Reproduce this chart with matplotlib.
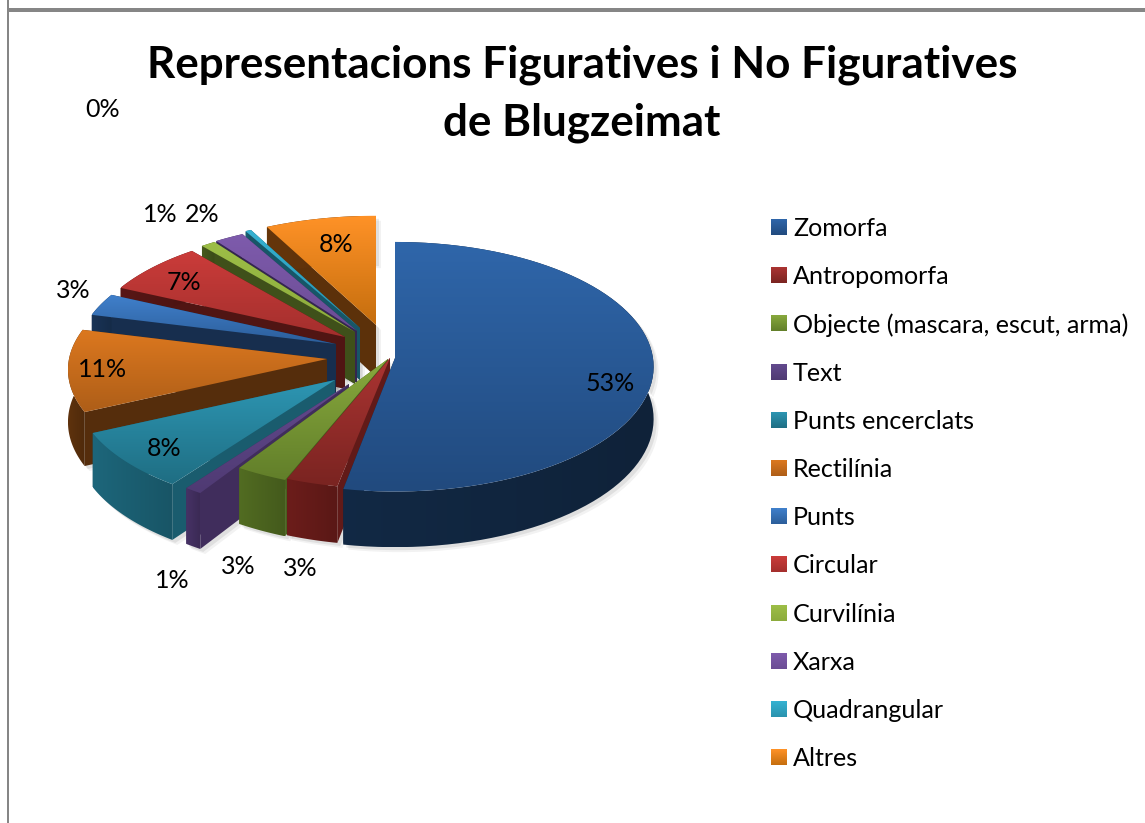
import numpy as np
import matplotlib
matplotlib.use("Agg")
import matplotlib.pyplot as plt
from matplotlib.colors import to_rgb
from matplotlib.patches import Polygon, Rectangle

plt.rcParams["font.family"] = ["Lato", "DejaVu Sans"]

TITLE = "Representacions Figuratives i No Figuratives\nde Blugzeimat"
CATEGORIES = ["Zomorfa", "Antropomorfa", "Objecte (mascara, escut, arma)", "Text",
              "Punts encerclats", "Rectilínia", "Punts", "Circular", "Curvilínia",
              "Xarxa", "Quadrangular", "Altres"]
VALUES = [53, 3, 3, 1, 8, 11, 3, 7, 1, 2, 0.4, 7.6]

# slice tips once exploded (pixels)
TIP_X = [395, 390, 388, 349, 335, 327, 336, 345, 355, 357, 360, 376]
TIP_Y = [358, 358, 359, 384, 380, 359, 344, 337, 332, 331, 328, 325]

# label centres (pixels), same order as VALUES
LABEL_X = [610, 300, 238, 172, 164, 103, 73, 184, 160, 202, 103, 336]
LABEL_Y = [383, 569, 567, 580, 448, 369, 290, 283, 214, 214, 109, 244]

TOP_HI = ["#2F66AA", "#AB3432", "#88A93D", "#634A8E", "#2D96B3", "#DC781F",
          "#4080CC", "#CB3C3A", "#9DBE47", "#7E5BAC", "#35B2D2", "#FF9227"]
TOP_LO = ["#214A7E", "#7A2421", "#627F2A", "#4F3A73", "#1F6E83", "#AE5E18",
          "#2C5E9A", "#A42F2D", "#8CAB3C", "#6B4C94", "#2A93AE", "#C56E0E"]
WALL = ["#0F2239", "#5A1816", "#445A1C", "#3B2A55", "#185566", "#4F2A0B",
        "#152B48", "#4A1312", "#3A4A18", "#30234A", "#15505F", "#552D09"]

# pie shape: radius, squash and thickness; the big slice gets its own tweak
RX, RY, DEPTH = 258, 120, 52
PERSP = [0.07] + [0.09] * 11
RY_SCALE = [1.04] + [1.0] * 11
W, H = 1145, 823


def point(i, theta, z=0.0):
    s = 1 - PERSP[i] * np.cos(theta)
    return (TIP_X[i] + RX * s * np.sin(theta),
            TIP_Y[i] - RY * RY_SCALE[i] * s * np.cos(theta) + z * DEPTH * s)


def gradient(ax, poly, c1, c2, zorder, vertical=True):
    poly = np.asarray(poly)
    x0, y0 = poly.min(axis=0)
    x1, y1 = poly.max(axis=0)
    t = np.linspace(0, 1, 64)[:, None, None]
    grad = (1 - t) * np.array(to_rgb(c1)) + t * np.array(to_rgb(c2))
    if not vertical:
        grad = grad.transpose(1, 0, 2)
    im = ax.imshow(grad, extent=(x0, x1, y1, y0), aspect="auto", zorder=zorder,
                   interpolation="bilinear")
    clip = Polygon(poly, closed=True, transform=ax.transData)
    im.set_clip_path(clip)


def lighter(col, f):
    return tuple(min(1, v * f) for v in to_rgb(col))


fig = plt.figure(figsize=(W / 100, H / 100), dpi=100)
ax = fig.add_axes([0, 0, 1, 1])

edges = np.concatenate([[0], np.cumsum(VALUES)]) / np.sum(VALUES) * 2 * np.pi
draw_order = [11, 10, 9, 8, 7, 6, 5, 4, 3, 2, 1, 0]

z = 5
for i in draw_order:
    th = np.linspace(edges[i], edges[i + 1], 80)
    tip = (TIP_X[i], TIP_Y[i])
    tip_low = (TIP_X[i], TIP_Y[i] + DEPTH)
    arc_top = [point(i, t) for t in th]
    arc_low = [point(i, t, 1) for t in th]

    # soft shadow, under everything
    outline = np.array([tip] + arc_top + arc_low[::-1] + [tip_low])
    for off, alpha in [(5, 0.10), (3, 0.16)]:
        ax.add_patch(Polygon(outline + off, closed=True, fc="#808080", ec="none",
                             alpha=alpha, zorder=1))

    # radial walls first, then outer wall, top face last
    for t_edge in (edges[i], edges[i + 1]):
        quad = [tip, point(i, t_edge), point(i, t_edge, 1), tip_low]
        ax.add_patch(Polygon(quad, closed=True, fc=lighter(WALL[i], 1.08), ec="none", zorder=z))
    gradient(ax, arc_top + arc_low[::-1], lighter(WALL[i], 1.2), WALL[i], z + 1, vertical=False)
    gradient(ax, [tip] + arc_top, TOP_HI[i], TOP_LO[i], z + 2)
    z += 3

# percentages
for i, v in enumerate(VALUES):
    ax.text(LABEL_X[i], LABEL_Y[i], f"{round(v)}%", ha="center", va="center",
            fontsize=18, color="black", zorder=100)

ax.text(582, 94, TITLE, ha="center", va="center", fontsize=31.7, fontweight="bold",
        linespacing=1.53, zorder=100)

# legend
for i, name in enumerate(CATEGORIES):
    y = 227 + i * 48.2
    square = [(771, y - 8), (787, y - 8), (787, y + 8), (771, y + 8)]
    gradient(ax, square, TOP_HI[i], TOP_LO[i], 90)
    ax.text(793, y + 1.5, name, ha="left", va="center", fontsize=18.1, zorder=100)

# page frame
ax.add_patch(Rectangle((7, 0), 2, H, fc="#868686", ec="none", zorder=120))
ax.add_patch(Rectangle((7, 8), W - 7, 4, fc="#868686", ec="none", zorder=120))

ax.set_xlim(0, W)
ax.set_ylim(H, 0)
ax.axis("off")
fig.savefig("out.png", dpi=100, facecolor="white")
